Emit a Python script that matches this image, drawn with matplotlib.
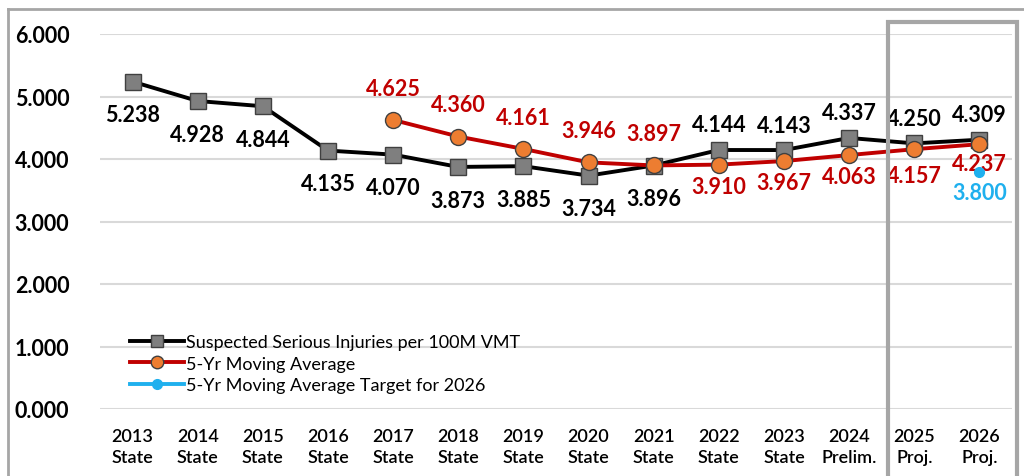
import matplotlib
matplotlib.use("Agg")
import matplotlib.pyplot as plt
from matplotlib.patches import Rectangle
from matplotlib.lines import Line2D

plt.rcParams['font.family'] = ['Lato', 'DejaVu Sans']

years = ["2013\nState", "2014\nState", "2015\nState", "2016\nState", "2017\nState",
         "2018\nState", "2019\nState", "2020\nState", "2021\nState", "2022\nState",
         "2023\nState", "2024\nPrelim.", "2025\nProj.", "2026\nProj."]
injuries = [5.238, 4.928, 4.844, 4.135, 4.070, 3.873, 3.885, 3.734, 3.896,
            4.144, 4.143, 4.337, 4.250, 4.309]
moving_avg = [None, None, None, None, 4.625, 4.360, 4.161, 3.946, 3.897,
              3.910, 3.967, 4.063, 4.157, 4.237]
target_2026 = 3.800
yticks = [0, 1, 2, 3, 4, 5, 6]

fig = plt.figure(figsize=(10.24, 4.77), dpi=100)
ax = fig.add_axes([100/1024, 1-410/477, 912/1024, 375/477])

x = list(range(len(years)))
ma_x = [i for i, v in zip(x, moving_avg) if v is not None]
ma_y = [v for v in moving_avg if v is not None]

ax.plot(x, injuries, color='black', lw=2.8, marker='s', ms=11.5,
        mfc='#7f7f7f', mec='#404040', mew=1.0, zorder=3)
ax.plot(ma_x, ma_y, color='#c00000', lw=2.8, marker='o', ms=11.5,
        mfc='#ed7d31', mec='#404040', mew=1.0, zorder=4)
ax.plot([13], [target_2026], color='#1fb0ee', marker='o', ms=7, lw=0, zorder=5)

lab_kw = dict(ha='center', va='center', fontsize=15.5, fontweight='bold')
for i, v in enumerate(injuries):
    off = -0.53 if i <= 8 else 0.40
    ax.text(i, v + off, f"{v:.3f}", color='black', **lab_kw)
for i, v in zip(ma_x, ma_y):
    if i <= 8:
        off = 0.51
    elif i == 12:
        off = -0.42
    elif i == 13:
        off = -0.31
    else:
        off = -0.35
    ax.text(i, v + off, f"{v:.3f}", color='#c00000', **lab_kw)
ax.text(13, target_2026 - 0.33, f"{target_2026:.3f}", color='#1fb0ee', **lab_kw)

ax.set_xlim(-0.5, 13.5)
ax.set_ylim(0, 6)
ax.set_yticks(yticks)
ax.set_yticklabels([f"{t:.3f}" for t in yticks], fontsize=15.5, fontweight='bold')
ax.set_xticks(x)
ax.set_xticklabels(years, fontsize=13, fontweight='semibold', linespacing=1.35)
ax.tick_params(length=0)
ax.tick_params(axis='x', pad=14)
ax.tick_params(axis='y', pad=22)
ax.grid(axis='y', color='#d9d9d9', lw=1.5)
ax.set_axisbelow(True)
for s in ax.spines.values():
    s.set_visible(False)

handles = [
    Line2D([], [], color='black', lw=2.8, marker='s', ms=9, mfc='#7f7f7f', mec='#404040'),
    Line2D([], [], color='#c00000', lw=2.8, marker='o', ms=9, mfc='#ed7d31', mec='#404040'),
    Line2D([], [], color='#1fb0ee', lw=2.8, marker='o', ms=7),
]
ax.legend(handles, ["Suspected Serious Injuries per 100M VMT", "5-Yr Moving Average",
                    "5-Yr Moving Average Target for 2026"],
          loc='lower left', bbox_to_anchor=(30/912, 16/375), frameon=False,
          fontsize=13, handlelength=3.0, handletextpad=0.1, borderpad=0,
          labelspacing=0.3, borderaxespad=0)

# outer frame (top and left)
fig.add_artist(Line2D([8/1024, 8/1024], [0, 1-10/477], color='#a6a6a6', lw=2,
                      transform=fig.transFigure))
fig.add_artist(Line2D([8/1024, 1], [1-10/477, 1-10/477], color='#a6a6a6', lw=2,
                      transform=fig.transFigure))
# projection box
fig.add_artist(Rectangle((888/1024, -0.05), (1017-888)/1024, 1.05-23/477,
                         fill=False, ec='#a6a6a6', lw=3, transform=fig.transFigure))

fig.savefig("out.png", dpi=100, facecolor='white')
